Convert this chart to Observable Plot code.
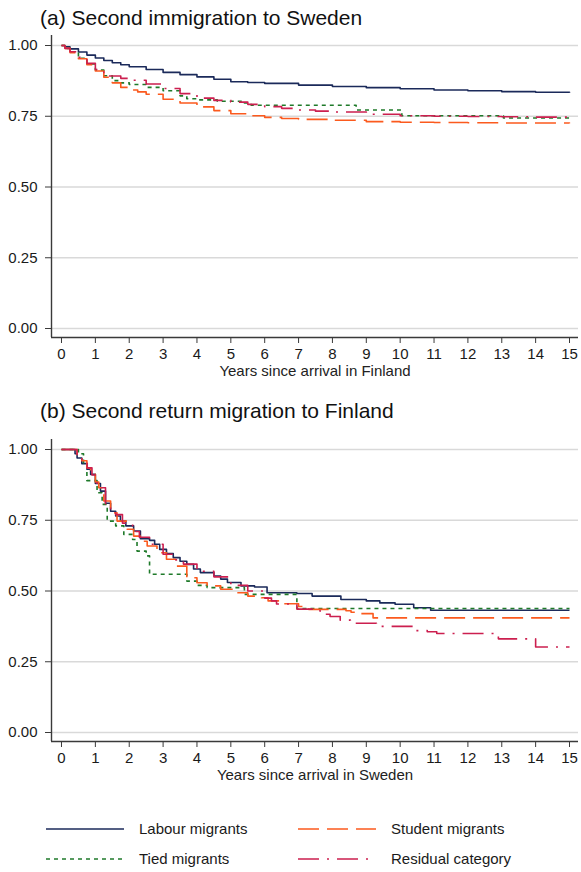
<!DOCTYPE html>
<html><head><meta charset="utf-8">
<script src="https://cdn.jsdelivr.net/npm/d3@7"></script>
<script src="https://cdn.jsdelivr.net/npm/@observablehq/plot@0.6"></script>
<style>
body{margin:0;background:#fff;}
#wrap{position:relative;width:581px;height:872px;font-family:"Liberation Sans",Arial,Helvetica,sans-serif;color:#111;overflow:hidden;background:#fff}
.title{position:absolute;left:40px;font-size:21px;line-height:21px;white-space:nowrap;color:#111}
.xtitle{position:absolute;left:115px;width:400px;text-align:center;font-size:15px;line-height:15px;white-space:nowrap;color:#222}
.panel{position:absolute;left:0}
#legend{position:absolute;left:0;top:815px}
</style>
</head><body>
<div id="wrap"></div>
<script>
// ---------- data ----------
const seriesNames = ["Labour migrants", "Tied migrants", "Student migrants", "Residual category"];
const panelTitles = ["(a) Second immigration to Sweden", "(b) Second return migration to Finland"];
const xTitles = ["Years since arrival in Finland", "Years since arrival in Sweden"];
const xTicks = [0,1,2,3,4,5,6,7,8,9,10,11,12,13,14,15];
const yTicks = [0, 0.25, 0.5, 0.75, 1];

// Panel (a): Kaplan-Meier survival, second immigration to Sweden  [years, survival]
const aLabour = [[0,1],[0.1,0.995],[0.25,0.988],[0.5,0.977],[0.75,0.966],[1,0.956],[1.25,0.947],[1.5,0.939],[1.75,0.932],[2,0.925],[2.5,0.915],[3,0.905],[3.5,0.897],[4,0.889],[4.5,0.881],[5,0.872],[5.5,0.869],[6,0.866],[7,0.86],[8,0.855],[9,0.851],[10,0.847],[11,0.843],[12,0.84],[13,0.837],[14,0.835],[15,0.833]];
const aTied = [[0,1],[0.1,0.99],[0.25,0.977],[0.5,0.955],[0.75,0.935],[1,0.913],[1.25,0.893],[1.5,0.876],[1.75,0.868],[2,0.862],[2.5,0.852],[3,0.84],[3.5,0.822],[3.7,0.812],[4,0.808],[4.6,0.803],[5.4,0.797],[5.6,0.789],[8.7,0.772],[10.05,0.752],[13.05,0.744],[15,0.744]];
const aStudent = [[0,1],[0.1,0.99],[0.25,0.975],[0.5,0.953],[0.75,0.932],[1,0.91],[1.25,0.888],[1.5,0.868],[1.75,0.852],[2,0.843],[2.25,0.836],[2.5,0.828],[3,0.81],[3.5,0.797],[4,0.783],[4.5,0.77],[5,0.759],[5.5,0.752],[6,0.746],[6.5,0.742],[7,0.739],[8,0.736],[9,0.731],[10,0.729],[11,0.728],[12,0.727],[13,0.726],[15,0.725]];
const aResidual = [[0,1],[0.1,0.99],[0.25,0.978],[0.5,0.958],[0.75,0.937],[1,0.915],[1.25,0.897],[1.4,0.892],[1.75,0.884],[2,0.877],[2.5,0.864],[3,0.848],[3.5,0.83],[4,0.814],[4.5,0.806],[5,0.8],[5.5,0.792],[6,0.784],[6.5,0.778],[7,0.772],[7.5,0.768],[8,0.765],[9,0.757],[10,0.752],[11,0.75],[12,0.749],[13,0.748],[14,0.747],[15,0.745]];

// Panel (b): Kaplan-Meier survival, second return migration to Finland  [years, survival]
const bLabour = [[0,1],[0.3,1],[0.4,0.985],[0.46,0.97],[0.6,0.95],[0.75,0.93],[0.86,0.912],[1,0.88],[1.15,0.853],[1.3,0.81],[1.45,0.782],[1.6,0.765],[1.74,0.747],[1.9,0.73],[2.13,0.712],[2.33,0.685],[2.6,0.679],[2.75,0.665],[2.9,0.647],[3.1,0.632],[3.3,0.618],[3.5,0.605],[3.7,0.594],[3.9,0.578],[4.1,0.565],[4.5,0.553],[4.7,0.542],[4.9,0.53],[5.3,0.518],[5.7,0.514],[6.07,0.494],[6.95,0.491],[7.4,0.482],[8.25,0.47],[9,0.465],[9.4,0.458],[9.85,0.453],[10.4,0.441],[10.9,0.432],[15,0.432]];
const bTied = [[0,1],[0.35,1],[0.5,0.985],[0.65,0.95],[0.75,0.89],[1.05,0.847],[1.2,0.806],[1.35,0.747],[1.6,0.73],[1.84,0.7],[2.1,0.682],[2.23,0.641],[2.5,0.624],[2.6,0.559],[3.7,0.535],[4,0.52],[4.3,0.512],[5.4,0.488],[6.95,0.438],[15,0.438]];
const bStudent = [[0,1],[0.3,1],[0.46,0.982],[0.6,0.96],[0.75,0.935],[0.86,0.912],[1,0.885],[1.1,0.865],[1.25,0.818],[1.45,0.776],[1.64,0.747],[1.94,0.718],[2.13,0.694],[2.33,0.676],[2.53,0.659],[2.82,0.635],[3.1,0.612],[3.4,0.588],[3.7,0.547],[4,0.529],[4.3,0.518],[4.7,0.506],[5.1,0.494],[5.5,0.482],[5.9,0.476],[6.1,0.465],[6.5,0.455],[7,0.445],[7.3,0.435],[8.4,0.43],[8.55,0.425],[8.8,0.42],[9.2,0.405],[15,0.405]];
const bResidual = [[0,1],[0.3,1],[0.46,0.975],[0.6,0.96],[0.76,0.935],[0.9,0.91],[1.05,0.876],[1.15,0.865],[1.3,0.8],[1.45,0.785],[1.6,0.77],[1.8,0.74],[2.1,0.71],[2.3,0.69],[2.6,0.665],[3,0.63],[3.3,0.61],[3.6,0.595],[4,0.57],[4.5,0.55],[5,0.52],[5.5,0.5],[6,0.475],[6.2,0.465],[6.35,0.454],[6.95,0.436],[7.44,0.43],[7.64,0.418],[7.93,0.41],[8.23,0.397],[8.53,0.386],[9.3,0.375],[10.4,0.36],[10.8,0.356],[11.08,0.35],[12.9,0.331],[14,0.302],[15,0.302]];

// ---------- styles ----------
const colors = {"Labour migrants":"#1b2a5a","Tied migrants":"#1f7a2a","Student migrants":"#fb5a1e","Residual category":"#cc1f4f"};
const dashes = {"Labour migrants":null,"Tied migrants":"4 4","Student migrants":"21 8","Residual category":"21 8 2 8"};

const panels = [
  {title: panelTitles[0], xTitle: xTitles[0], series: [aLabour, aTied, aStudent, aResidual], titleTop: 6.7},
  {title: panelTitles[1], xTitle: xTitles[1], series: [bLabour, bTied, bStudent, bResidual], titleTop: 400}
];

const X0 = -10/33.867, X1 = 15 + 9/33.867;
const Y0 = -9/283, Y1 = 1 + 10/283;
const font = '"Liberation Sans", Arial, Helvetica, sans-serif';
const wrap = document.getElementById("wrap");
const panelOffset = 404;

panels.forEach((p, i) => {
  const off = i * panelOffset;
  const t = document.createElement("div");
  t.className = "title"; t.style.top = p.titleTop + "px"; t.textContent = p.title;
  wrap.appendChild(t);

  const chart = Plot.plot({
    width: 581, height: 337,
    marginLeft: 51, marginRight: 3, marginTop: 5, marginBottom: 30,
    x: {domain: [X0, X1]},
    y: {domain: [Y0, Y1]},
    style: {fontFamily: font, fontSize: "15px", color: "#1a1a1a", background: "transparent", overflow: "visible"},
    marks: [
      Plot.gridY(yTicks, {stroke: "#d9d9d9", strokeOpacity: 1, strokeWidth: 1.3}),
      Plot.ruleX([X0], {stroke: "#3a3a3a", strokeWidth: 1.4}),
      Plot.ruleY([Y0], {stroke: "#3a3a3a", strokeWidth: 1.4}),
      Plot.axisY(yTicks, {tickSize: 6, tickPadding: 8, tickFormat: d3.format(".2f"), label: null, stroke: "#3a3a3a"}),
      Plot.axisX(xTicks, {tickSize: 6, tickPadding: 5, tickFormat: d => String(d), label: null, stroke: "#3a3a3a"}),
      ...p.series.map((pts, k) => Plot.line(pts, {
        x: d => d[0], y: d => d[1], curve: "step-after",
        stroke: colors[seriesNames[k]], strokeWidth: 1.6,
        strokeDasharray: dashes[seriesNames[k]], strokeLinecap: "butt"
      }))
    ]
  });
  chart.classList.add("panel");
  chart.style.top = (30 + off) + "px";
  wrap.appendChild(chart);

  const xt = document.createElement("div");
  xt.className = "xtitle"; xt.style.top = (363 + off) + "px"; xt.textContent = p.xTitle;
  wrap.appendChild(xt);
});

// ---------- legend ----------
const legendItems = [
  {name: "Labour migrants", col: 0, row: 0},
  {name: "Student migrants", col: 1, row: 0},
  {name: "Tied migrants", col: 0, row: 1},
  {name: "Residual category", col: 1, row: 1}
];
const colX = [46, 298];
const rowY = [14, 44];
const lg = d3.create("svg").attr("id", "legend").attr("width", 581).attr("height", 57);
legendItems.forEach(it => {
  const x = colX[it.col], y = rowY[it.row];
  lg.append("line").attr("x1", x).attr("x2", x + 78).attr("y1", y).attr("y2", y)
    .attr("stroke", colors[it.name]).attr("stroke-width", 1.6)
    .attr("stroke-dasharray", dashes[it.name]);
  lg.append("text").attr("x", x + 93).attr("y", y).attr("dy", "0.35em")
    .attr("font-family", font).attr("font-size", 15).attr("fill", "#1a1a1a").text(it.name);
});
wrap.appendChild(lg.node());
</script>
</body></html>
